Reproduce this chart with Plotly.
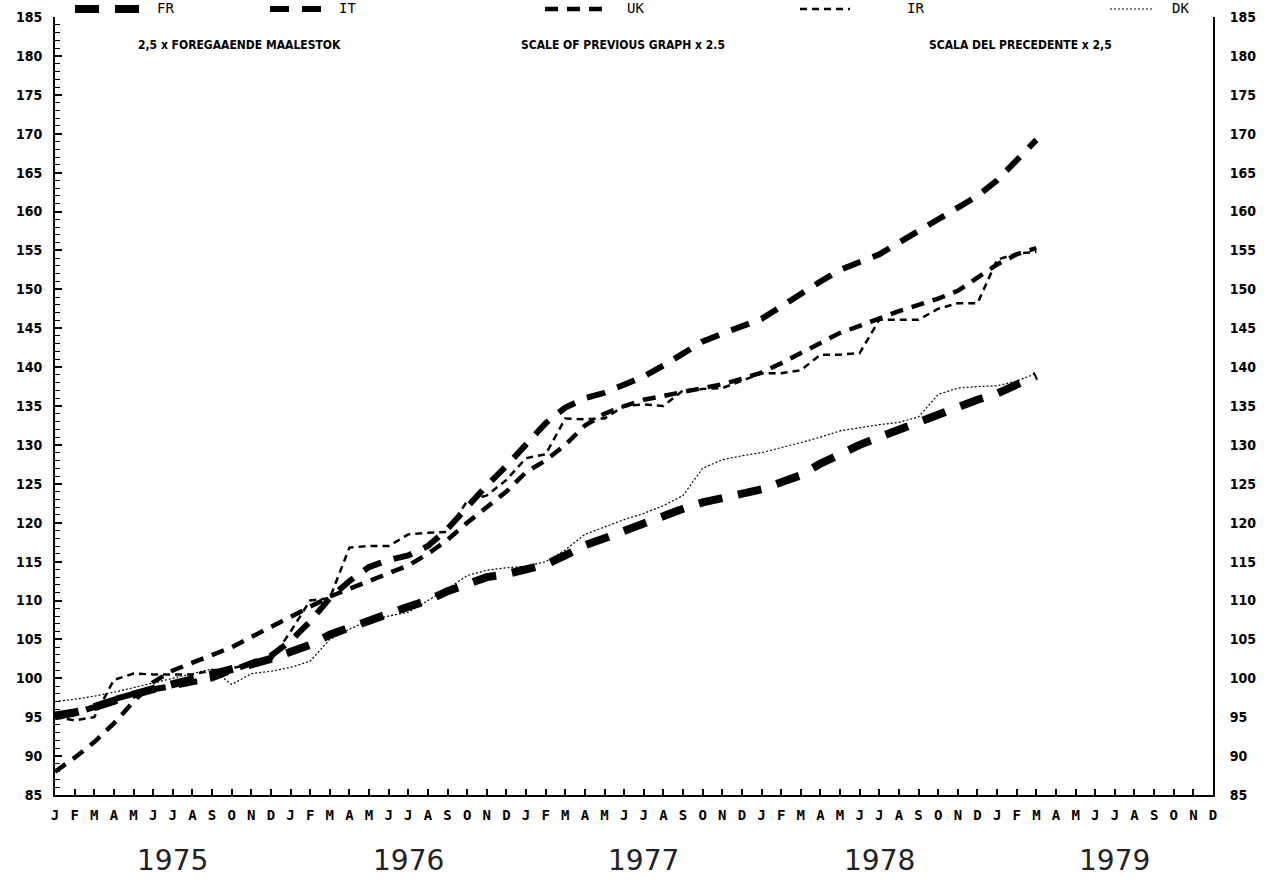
import plotly.graph_objects as go

# months Jan 1975 .. Mar 1979 (index 0..50); axis runs to Dec 1979 (59)
MONTH_LETTERS = list("JFMAMJJASOND") * 5
YEARS = ["1975", "1976", "1977", "1978", "1979"]

FR = [95.2, 95.6, 96.3, 97.2, 97.9, 98.6, 99.2, 99.8, 100.4, 101.0, 101.8, 102.5,
      103.3, 104.3, 105.6, 106.5, 107.6, 108.5, 109.2, 110.0, 111.2, 112.1, 113.0, 113.4,
      114.0, 114.6, 115.8, 117.1, 118.0, 119.0, 120.0, 120.9, 121.8, 122.6, 123.1, 123.6,
      124.3, 125.2, 126.1, 127.6, 128.9, 130.0, 131.0, 132.0, 133.0, 134.0, 135.0, 135.8,
      136.6, 137.7, 138.9]
IT = [95.0, 95.5, 96.3, 97.3, 98.0, 98.6, 99.0, 99.5, 100.0, 101.0, 102.0, 102.9,
      104.8, 107.3, 110.3, 112.5, 114.3, 115.2, 115.8, 117.0, 119.2, 122.0, 124.8, 127.3,
      130.0, 132.8, 134.8, 136.0, 136.7, 137.7, 138.8, 140.2, 141.8, 143.3, 144.3, 145.2,
      146.2, 147.8, 149.5, 151.0, 152.5, 153.5, 154.5, 156.0, 157.6, 159.0, 160.5, 162.0,
      164.0, 166.5, 169.2]
UK = [88.0, 89.8, 91.8, 94.2, 97.0, 99.5, 101.0, 102.0, 103.0, 104.0, 105.3, 106.6,
      108.0, 109.3, 110.5, 111.5, 112.5, 113.5, 114.5, 116.0, 117.8, 120.0, 122.0, 124.0,
      126.5, 128.0, 130.0, 132.5, 134.0, 135.0, 135.8, 136.3, 136.8, 137.3, 137.8, 138.5,
      139.3, 140.5, 141.8, 143.1, 144.4, 145.3, 146.3, 147.2, 148.0, 148.8, 149.8, 151.5,
      153.2, 154.5, 155.3]
IR = [95.0, 94.6, 95.0, 99.8, 100.6, 100.5, 100.5, 100.5, 101.0, 101.3, 101.8, 102.3,
      106.0, 110.0, 110.3, 116.8, 117.0, 117.0, 118.5, 118.7, 118.8, 122.8, 123.5, 125.5,
      128.3, 128.8, 133.4, 133.3, 133.4, 135.0, 135.2, 135.0, 137.0, 137.2, 137.3, 138.3,
      139.2, 139.2, 139.6, 141.6, 141.6, 141.8, 146.1, 146.1, 146.1, 147.5, 148.2, 148.2,
      153.8, 154.6, 154.8]
DK = [97.0, 97.3, 97.7, 98.2, 98.8, 99.4, 100.0, 100.6, 101.2, 99.2, 100.6, 100.9,
      101.4, 102.2, 105.0, 106.3, 107.5, 108.0, 108.5, 110.0, 111.5, 113.2, 113.9, 114.2,
      114.4, 115.0, 116.5, 118.5, 119.5, 120.4, 121.2, 122.2, 123.5, 127.0, 128.1, 128.6,
      129.0, 129.6, 130.3, 131.0, 131.8, 132.2, 132.6, 132.9, 133.6, 136.5, 137.3, 137.5,
      137.6, 138.2, 139.2]

SERIES = [
    ("FR", FR, 8, "24px,16px"),
    ("IT", IT, 6, "19px,13px"),
    ("UK", UK, 4.5, "13px,9px"),
    ("IR", IR, 2.5, "7px,5px"),
    ("DK", DK, 1.2, "2px,2px"),
]

W, H = 1268, 885
PLOT_L, PLOT_R, PLOT_T, PLOT_B = 55, 1213, 17, 795  # pixels
L, R, T, B = PLOT_L, W - PLOT_R, PLOT_T, H - PLOT_B


def px_x(x):
    return (x - PLOT_L) / (PLOT_R - PLOT_L)


def px_y(y):
    return (PLOT_B - y) / (PLOT_B - PLOT_T)


fig = go.Figure()
months = list(range(len(FR)))
for name, vals, width, dash in SERIES:
    fig.add_trace(go.Scatter(x=months, y=vals, mode="lines", name=name,
                             line=dict(color="black", width=width, dash=dash)))
# invisible trace so the right axis is drawn
fig.add_trace(go.Scatter(x=[0], y=[85], yaxis="y2", mode="markers",
                         marker=dict(opacity=0), showlegend=False, hoverinfo="skip"))

# hand drawn legend across the top
legend_pos = [(75, 141, 155), (270, 330, 337), (545, 611, 625), (800, 850, 905), (1110, 1152, 1170)]
for (name, vals, width, dash), (x0, x1, xt) in zip(SERIES, legend_pos):
    fig.add_shape(type="line", xref="paper", yref="paper",
                  x0=px_x(x0), x1=px_x(x1), y0=px_y(9), y1=px_y(9),
                  line=dict(color="black", width=width, dash=dash))
    fig.add_annotation(text=name, xref="paper", yref="paper", x=px_x(xt), y=px_y(8),
                       xanchor="left", yanchor="middle", showarrow=False,
                       font=dict(family="DejaVu Sans Mono", size=14, color="black"))

subtitles = [("2,5 x FOREGAAENDE MAALESTOK", 239),
             ("SCALE OF PREVIOUS GRAPH x 2.5", 623),
             ("SCALA DEL PRECEDENTE x 2,5", 1020)]
for text, xc in subtitles:
    fig.add_annotation(text=text, xref="paper", yref="paper", x=px_x(xc), y=px_y(45),
                       xanchor="center", yanchor="middle", showarrow=False,
                       font=dict(family="DejaVu Sans Condensed", size=12, color="black", weight="bold"))

for k, year in enumerate(YEARS):
    fig.add_annotation(text=year, x=6 + 12 * k, xref="x", yref="paper", y=px_y(860),
                       xanchor="center", yanchor="middle", showarrow=False,
                       font=dict(family="DejaVu Sans ExtraLight, DejaVu Sans", size=28, color="#222"))

tick_font = dict(family="DejaVu Sans Condensed", size=14, color="black", weight="bold")
yticks = list(range(85, 186, 5))
fig.update_layout(
    width=W, height=H,
    margin=dict(l=L, r=R, t=T, b=B, autoexpand=False),
    paper_bgcolor="white", plot_bgcolor="white",
    showlegend=False,
    xaxis=dict(range=[0, 59], tickvals=list(range(60)), ticktext=MONTH_LETTERS,
               showgrid=False, zeroline=False, showline=True, linecolor="black", linewidth=2,
               ticks="inside", ticklen=6, tickwidth=1.5, tickcolor="black",
               tickfont=dict(family="DejaVu Sans Mono", size=14, color="black", weight="bold"),
               ticklabelstandoff=6),
    yaxis=dict(range=[85, 185], tickvals=yticks, showgrid=False, zeroline=False,
               showline=True, linecolor="black", linewidth=2,
               ticks="inside", ticklen=7, tickwidth=1.5, tickcolor="black",
               minor=dict(dtick=1, ticks="inside", ticklen=5, tickcolor="black", tickwidth=1),
               tickfont=tick_font, ticklabelstandoff=8),
    yaxis2=dict(range=[85, 185], tickvals=yticks, overlaying="y", side="right",
                showgrid=False, zeroline=False, showline=True, linecolor="black", linewidth=2,
                ticks="", tickfont=tick_font, ticklabelstandoff=12),
)

# drop the default body margin so the figure sits at the window corner
fig.write_html("out.html", config={"displayModeBar": False},
               post_script="document.body.style.margin = '0';")
